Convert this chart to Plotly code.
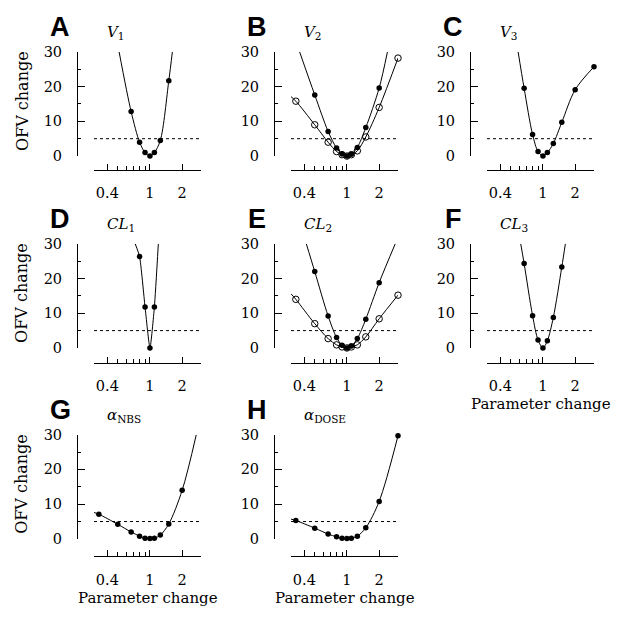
import math
import plotly.graph_objects as go

# ---------------- data ----------------
X_RANGE = [0.3, 3]
THRESHOLD = 5
x_tickvals = [0.4, 1, 2]
x_ticktext = ["0.4", "1", "2"]
x_minorvals = [0.3, 0.5, 0.6, 0.7, 0.8, 0.9, 3]
y_tickvals = [0, 10, 20, 30]
y_minorvals = [5, 15, 25]

panel_letters = ["A", "B", "C", "D", "E", "F", "G", "H"]
param_labels = [
    "<i>V</i><sub>1</sub>", "<i>V</i><sub>2</sub>", "<i>V</i><sub>3</sub>",
    "<i>CL</i><sub>1</sub>", "<i>CL</i><sub>2</sub>", "<i>CL</i><sub>3</sub>",
    "<i>α</i><sub>NBS</sub>", "<i>α</i><sub>DOSE</sub>",
]

# A  V1
A_x = [0.667, 0.8, 0.9, 1, 1.1, 1.25, 1.5]
A_y = [12.8, 4.0, 1.0, 0.0, 1.0, 4.5, 21.7]
A_ends_x = [0.515, 1.62]
A_ends_y = [30, 30]

# B  V2 (filled and open)
B_x = [0.5, 0.667, 0.8, 0.9, 1, 1.1, 1.25, 1.5, 2]
B_y = [17.6, 7.1, 2.3, 0.6, 0.0, 0.5, 2.5, 8.2, 19.6]
B_ends_x = [0.361, 2.39]
B_ends_y = [30, 30]
B_open_x = [0.333, 0.5, 0.667, 0.8, 0.9, 1, 1.1, 1.25, 1.5, 2, 3]
B_open_y = [15.8, 9.0, 4.0, 1.3, 0.4, 0.0, 0.4, 1.5, 5.5, 14.0, 28.2]
B_open_ends_x = [0.3, None]
B_open_ends_y = [17.1, None]

# C  V3
C_x = [0.667, 0.8, 0.9, 1, 1.1, 1.25, 1.5, 2, 3]
C_y = [19.5, 6.2, 1.3, 0.0, 1.0, 3.6, 9.7, 19.1, 25.7]
C_ends_x = [0.586, None]
C_ends_y = [30, None]

# D  CL1
D_x = [0.8, 0.9, 1, 1.1]
D_y = [26.3, 11.8, 0.0, 11.8]
D_ends_x = [0.728, 1.198]
D_ends_y = [30, 30]

# E  CL2 (filled and open)
E_x = [0.5, 0.667, 0.8, 0.9, 1, 1.1, 1.25, 1.5, 2]
E_y = [22.0, 9.2, 3.0, 0.8, 0.0, 0.6, 2.7, 8.3, 18.8]
E_ends_x = [0.417, 2.83]
E_ends_y = [30, 30]
E_open_x = [0.333, 0.5, 0.667, 0.8, 0.9, 1, 1.1, 1.25, 1.5, 2, 3]
E_open_y = [14.0, 7.0, 2.7, 0.9, 0.3, 0.0, 0.3, 0.9, 3.2, 8.4, 15.2]
E_open_ends_x = [0.3, None]
E_open_ends_y = [15.6, None]

# F  CL3
F_x = [0.667, 0.8, 0.9, 1, 1.1, 1.25, 1.5]
F_y = [24.3, 9.3, 2.3, 0.0, 2.1, 8.8, 23.3]
F_ends_x = [0.62, 1.62]
F_ends_y = [30, 30]

# G  alpha_NBS
G_x = [0.333, 0.5, 0.667, 0.8, 0.9, 1, 1.1, 1.25, 1.5, 2]
G_y = [7.1, 4.2, 2.0, 0.8, 0.2, 0.1, 0.2, 1.1, 4.3, 14.0]
G_ends_x = [0.3, 2.71]
G_ends_y = [7.6, 30]

# H  alpha_DOSE
H_x = [0.333, 0.5, 0.667, 0.8, 0.9, 1, 1.1, 1.25, 1.5, 2, 3]
H_y = [5.3, 3.1, 1.4, 0.6, 0.2, 0.1, 0.2, 0.8, 3.2, 10.8, 29.7]
H_ends_x = [0.3, None]
H_ends_y = [5.7, None]

panels = [
    [(A_x, A_y, A_ends_x, A_ends_y, "filled")],
    [(B_x, B_y, B_ends_x, B_ends_y, "filled"),
     (B_open_x, B_open_y, B_open_ends_x, B_open_ends_y, "open")],
    [(C_x, C_y, C_ends_x, C_ends_y, "filled")],
    [(D_x, D_y, D_ends_x, D_ends_y, "filled")],
    [(E_x, E_y, E_ends_x, E_ends_y, "filled"),
     (E_open_x, E_open_y, E_open_ends_x, E_open_ends_y, "open")],
    [(F_x, F_y, F_ends_x, F_ends_y, "filled")],
    [(G_x, G_y, G_ends_x, G_ends_y, "filled")],
    [(H_x, H_y, H_ends_x, H_ends_y, "filled")],
]

# ---------------- layout geometry (pixels) ----------------
W, H = 623, 619
col_left = [94, 291, 487]
plot_w = 107
row_top = [45, 242, 438]
plot_h = 107
xline_y = [166, 364, 563]
yaxis_gap = 17

SERIF = "DejaVu Serif"


def px(x):
    return x / W


def py(y):
    return 1 - y / H


fig = go.Figure()
layout = dict(
    width=W, height=H,
    margin=dict(l=0, r=0, t=0, b=0),
    paper_bgcolor="white", plot_bgcolor="rgba(0,0,0,0)",
    showlegend=False,
    font=dict(family=SERIF, color="black", size=14),
)
annotations = []

for i, series in enumerate(panels):
    r, c = divmod(i, 3)
    xs = "" if i == 0 else str(i + 1)
    x0 = col_left[c]
    y0 = row_top[r]
    layout["xaxis" + xs] = dict(
        type="log",
        range=[math.log10(X_RANGE[0]), math.log10(X_RANGE[1])],
        domain=[px(x0), px(x0 + plot_w)],
        anchor="free", position=py(xline_y[r]),
        showline=True, linecolor="black", linewidth=1,
        ticks="inside", ticklen=6, tickwidth=1, tickcolor="black",
        tickmode="array", tickvals=x_tickvals, ticktext=x_ticktext,
        minor=dict(ticks="inside", ticklen=4, tickwidth=1, tickcolor="black",
                   tickmode="array", tickvals=x_minorvals, showgrid=False),
        showgrid=False, zeroline=False,
        tickfont=dict(family=SERIF, size=14.5),
        ticklabelstandoff=10,
        fixedrange=True,
    )
    layout["yaxis" + xs] = dict(
        range=[0, 30],
        domain=[py(y0 + plot_h), py(y0)],
        anchor="free", position=px(x0 - yaxis_gap),
        showline=True, linecolor="black", linewidth=1,
        ticks="inside", ticklen=7, tickwidth=1, tickcolor="black",
        tickmode="array", tickvals=y_tickvals,
        minor=dict(ticks="inside", ticklen=3, tickwidth=1, tickcolor="black",
                   tickmode="array", tickvals=y_minorvals, showgrid=False),
        showgrid=False, zeroline=False,
        tickfont=dict(family=SERIF, size=14.5),
        ticklabelstandoff=12,
        fixedrange=True,
    )
    xref = "x" + xs
    yref = "y" + xs

    # threshold line
    fig.add_trace(go.Scatter(
        x=X_RANGE, y=[THRESHOLD, THRESHOLD], mode="lines",
        line=dict(color="black", width=1, dash="3px,3px"),
        xaxis=xref, yaxis=yref, hoverinfo="skip",
    ))

    for sx, sy, ex, ey, style in series:
        cx = ([ex[0]] if ex[0] is not None else []) + list(sx) + ([ex[1]] if ex[1] is not None else [])
        cy = ([ey[0]] if ey[0] is not None else []) + list(sy) + ([ey[1]] if ey[1] is not None else [])
        fig.add_trace(go.Scatter(
            x=cx, y=cy, mode="lines",
            line=dict(color="black", width=1, shape="spline", smoothing=0.9 if i != 3 else 0.5),
            xaxis=xref, yaxis=yref, hoverinfo="skip",
        ))
        if style == "filled":
            marker = dict(symbol="circle", size=5.5, color="black")
        else:
            marker = dict(symbol="circle-open", size=6.5, color="black",
                          line=dict(color="black", width=1))
        fig.add_trace(go.Scatter(
            x=sx, y=sy, mode="markers", marker=marker,
            xaxis=xref, yaxis=yref, cliponaxis=False,
        ))

    # panel letter
    annotations.append(dict(
        text="<b>%s</b>" % panel_letters[i], xref="paper", yref="paper",
        x=px(x0 - 34), y=py(y0 - 25), xanchor="center", yanchor="middle",
        showarrow=False, font=dict(family="Liberation Sans", size=27, color="black"),
    ))
    # parameter label
    annotations.append(dict(
        text=param_labels[i], xref="paper", yref="paper",
        x=px(x0 + 11), y=py(y0 - 20), xanchor="left", yanchor="middle",
        showarrow=False, font=dict(family=SERIF, size=15, color="black"),
    ))
    # y title for first column
    if c == 0:
        annotations.append(dict(
            text="OFV change", xref="paper", yref="paper",
            x=px(22), y=py(y0 + plot_h / 2 - 3), xanchor="center", yanchor="middle",
            textangle=-90, showarrow=False,
            font=dict(family=SERIF, size=16, color="black"),
        ))
    # x title for bottom panels of each column
    if i in (5, 6, 7):
        annotations.append(dict(
            text="Parameter change", xref="paper", yref="paper",
            x=px(x0 + plot_w / 2), y=py(xline_y[r] + 43), xanchor="center", yanchor="middle",
            showarrow=False, font=dict(family=SERIF, size=15, color="black"),
        ))

layout["annotations"] = annotations
fig.update_layout(**layout)
fig.write_html(
    "out.html",
    config={"displayModeBar": False},
    post_script="document.documentElement.style.margin='0';document.body.style.margin='0';document.body.style.padding='0';",
)
